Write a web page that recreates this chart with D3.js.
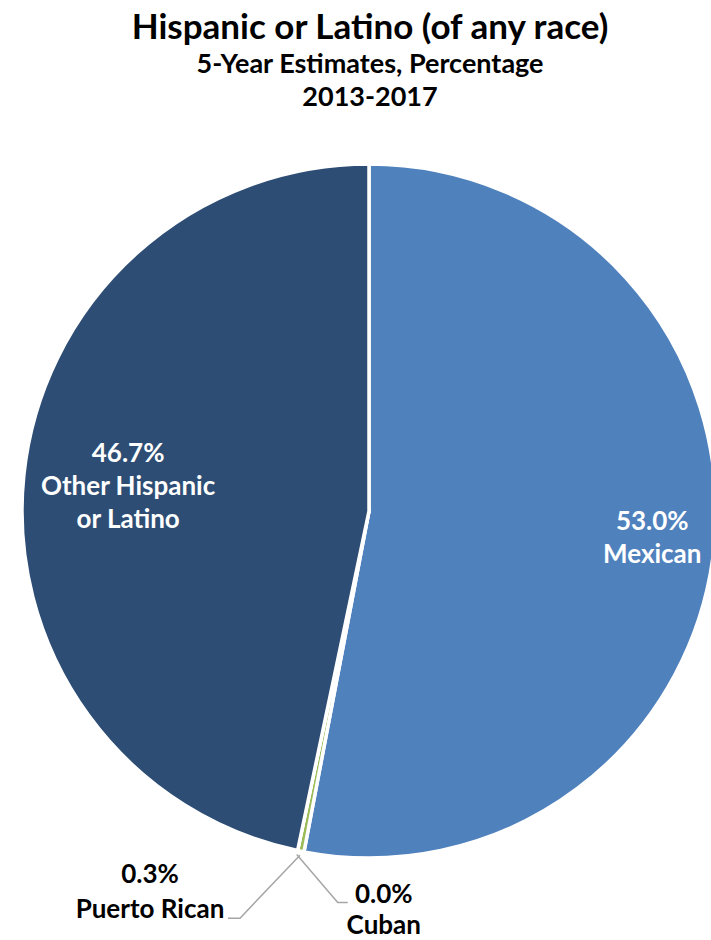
<!DOCTYPE html>
<html>
<head>
<meta charset="utf-8">
<script src="https://cdn.jsdelivr.net/npm/d3@7"></script>
<style>
  body { margin: 0; background: #fff; }
  text { font-family: Lato, "Open Sans", sans-serif; font-weight: bold; }
</style>
</head>
<body>
<div id="chart"></div>
<script>
// data
let categories = ["Mexican", "Puerto Rican", "Cuban", "Other Hispanic or Latino"]
let values = [53.0, 0.3, 0.0, 46.7]
let labelLines = [["53.0%", "Mexican"], ["0.3%", "Puerto Rican"], ["0.0%", "Cuban"], ["46.7%", "Other Hispanic", "or Latino"]]
let titleLines = ["Hispanic or Latino (of any race)", "5-Year Estimates, Percentage", "2013-2017"]

let colors = ["#4F81BD", "#9BBB59", "#C0504D", "#2D4D74"]

let width = 711, height = 940
let cx = 369, cy = 511, radius = 347

let svg = d3.select("#chart").append("svg")
    .attr("width", width)
    .attr("height", height)

// titles
svg.append("text").text(titleLines[0])
    .attr("x", 370).attr("y", 39)
    .attr("text-anchor", "middle")
    .style("font-size", "35px")
svg.selectAll(".subtitle").data(titleLines.slice(1)).enter().append("text")
    .attr("class", "subtitle")
    .text(d => d)
    .attr("x", 370).attr("y", (d, i) => 73 + i * 33)
    .attr("text-anchor", "middle")
    .style("font-size", "27px")

let pie = d3.pie().sort(null).value(d => d).startAngle(0).endAngle(2 * Math.PI)
let arcs = pie(values)
let arc = d3.arc().innerRadius(0).outerRadius(radius)

let g = svg.append("g").attr("transform", `translate(${cx},${cy})`)

g.selectAll("path").data(arcs).enter().append("path")
    .attr("d", arc)
    .style("fill", (d, i) => colors[i])
    .style("stroke", "#fff")
    .style("stroke-width", 3.5)
    .style("stroke-linejoin", "round")

// inside labels ("best fit" radius per slice)
let insideRadius = {0: 0.82, 3: 0.698}
let insideLabels = arcs.map((d, i) => ({d, i})).filter(o => insideRadius[o.i] !== undefined)
insideLabels.forEach(o => {
    let mid = (o.d.startAngle + o.d.endAngle) / 2
    let r = radius * insideRadius[o.i]
    let x = Math.sin(mid) * r, y = -Math.cos(mid) * r
    let lines = labelLines[o.i]
    let t = g.append("text")
        .attr("text-anchor", "middle")
        .style("fill", "#fff")
        .style("font-size", "26px")
    lines.forEach((l, k) => {
        t.append("tspan")
            .attr("x", x)
            .attr("y", y + 9 + (k - (lines.length - 1) / 2) * 33)
            .text(l)
    })
})

// outside labels with leader lines
let outside = [
    {i: 1, dx: -60, dy: 63, hx: -12, tx: -150, ty: 28, lh: 35},
    {i: 2, dx: 41, dy: 48, hx: 10, tx: 87, ty: 49, lh: 31}
]
outside.forEach(o => {
    let d = arcs[o.i]
    let mid = (d.startAngle + d.endAngle) / 2
    let px = Math.sin(mid) * (radius + 4), py = -Math.cos(mid) * (radius + 4)
    let ex = px + o.dx, ey = py + o.dy
    g.append("polyline")
        .attr("points", [[px, py], [ex, ey], [ex + o.hx, ey]].map(p => p.join(",")).join(" "))
        .style("fill", "none")
        .style("stroke", "#A6A6A6")
        .style("stroke-width", 1.5)
    let lines = labelLines[o.i]
    let t = g.append("text")
        .attr("text-anchor", "middle")
        .style("fill", "#000")
        .style("font-size", "26px")
    lines.forEach((l, k) => {
        t.append("tspan")
            .attr("x", px + o.tx)
            .attr("y", py + o.ty + k * o.lh)
            .text(l)
    })
})
</script>
</body>
</html>
